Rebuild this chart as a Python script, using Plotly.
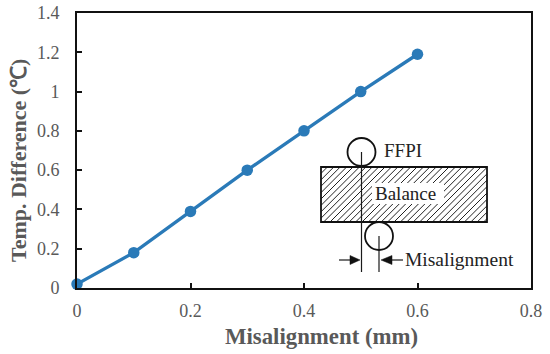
import plotly.graph_objects as go

misalignment = [0, 0.1, 0.2, 0.3, 0.4, 0.5, 0.6]
temp_difference = [0.02, 0.18, 0.39, 0.6, 0.8, 1.0, 1.19]
x_ticks = [0, 0.2, 0.4, 0.6, 0.8]
x_tick_labels = ["0", "0.2", "0.4", "0.6", "0.8"]
y_ticks = [0, 0.2, 0.4, 0.6, 0.8, 1.0, 1.2, 1.4]
y_tick_labels = ["0", "0.2", "0.4", "0.6", "0.8", "1", "1.2", "1.4"]

W, H = 550, 354
L, R, T, B = 77, 531, 13, 288
FONT = "Liberation Serif"
GREY = "#595959"
BLUE = "#2a7ab8"
INK = "#1a1a1a"


def px(x):
    return (x - L) / (R - L)


def py(y):
    return (B - y) / (B - T)


def line(x0, y0, x1, y1, width=1.2, color=INK):
    return dict(type="line", xref="paper", yref="paper", x0=px(x0), y0=py(y0),
                x1=px(x1), y1=py(y1), line=dict(color=color, width=width))


def circle(cx, cy, r):
    return dict(type="circle", xref="paper", yref="paper", x0=px(cx - r), y0=py(cy - r),
                x1=px(cx + r), y1=py(cy + r), fillcolor="white",
                line=dict(color="#111111", width=1.8))


def tri(points):
    d = "M " + " L ".join(f"{px(a):.5f},{py(b):.5f}" for a, b in points) + " Z"
    return dict(type="path", xref="paper", yref="paper", path=d, fillcolor="#111111",
                line=dict(color="#111111", width=0.5))


RX0, RX1, RY0, RY1 = 321, 487, 167, 222
shapes = []

# diagonal hatching of the balance, clipped to its rectangle
step = 6.4
c = RX0 + RY0
while c < RX1 + RY1:
    xa = min(c - RY0, RX1)
    ya = c - xa
    xb = max(c - RY1, RX0)
    yb = c - xb
    if xa > RX0 and xb < RX1:
        shapes.append(line(xb, yb, xa, ya, width=1.0, color="#222222"))
    c += step

# white patch behind the word "Balance"
shapes.append(dict(type="rect", xref="paper", yref="paper", x0=px(372), x1=px(444),
                   y0=py(183), y1=py(204), fillcolor="white", line=dict(width=0)))
shapes.append(dict(type="rect", xref="paper", yref="paper", x0=px(RX0), x1=px(RX1),
                   y0=py(RY0), y1=py(RY1), line=dict(color="#111111", width=1.8)))
shapes.append(circle(361.5, 152, 14))
shapes.append(circle(379, 236, 14))
shapes.append(line(361.5, 152, 361.5, 272))
shapes.append(line(379, 236, 379, 272))
shapes.append(line(339, 260, 350, 260))
shapes.append(tri([(350, 255.5), (360, 260), (350, 264.5)]))
shapes.append(line(392, 260, 403, 260))
shapes.append(tri([(392, 255.5), (381, 260), (392, 264.5)]))


def note(x, y, text, size=16):
    return dict(xref="paper", yref="paper", x=px(x), y=py(y), text=text, showarrow=False,
                xanchor="left", yanchor="middle",
                font=dict(family=FONT, size=size, color="#222222"))


def axis_title(x, y, text, size, angle=0):
    return dict(xref="paper", yref="paper", x=px(x), y=py(y), text=f"<b>{text}</b>",
                showarrow=False, xanchor="center", yanchor="middle", textangle=angle,
                font=dict(family=FONT, size=size, color=GREY))


annotations = [
    note(382, 150, "FFPI", 19),
    note(373, 193, "Balance", 19),
    note(403, 259, "Misalignment", 19.5),
    axis_title(321, 336, "Misalignment (mm)", 22.8),
    axis_title(18, 161, "Temp. Difference (℃)", 22, angle=-90),
]

fig = go.Figure(go.Scatter(
    x=misalignment, y=temp_difference, mode="lines+markers",
    line=dict(color=BLUE, width=3.3),
    marker=dict(color=BLUE, size=11.5),
    cliponaxis=False,
))

axis_common = dict(
    showgrid=False, zeroline=False, showline=True, mirror=True,
    linecolor="#111111", linewidth=2,
    ticks="inside", ticklen=5, tickwidth=1.5, tickcolor="#111111",
    tickfont=dict(family=FONT, size=18, color=GREY),
)

fig.update_layout(
    width=W, height=H,
    margin=dict(l=L, r=W - R, t=T, b=H - B, autoexpand=False),
    plot_bgcolor="white", paper_bgcolor="white",
    showlegend=False,
    xaxis=dict(range=[0, 0.8], tickvals=x_ticks, ticktext=x_tick_labels,
               ticklabelstandoff=5, **axis_common),
    yaxis=dict(range=[0, 1.4], tickvals=y_ticks, ticktext=y_tick_labels,
               ticklabelstandoff=12, **axis_common),
    shapes=shapes,
    annotations=annotations,
)

# Remove the page's default body margin so the figure fills the window exactly.
fig.write_html("out.html", config={"displayModeBar": False},
               post_script="document.body.style.margin='0';")
